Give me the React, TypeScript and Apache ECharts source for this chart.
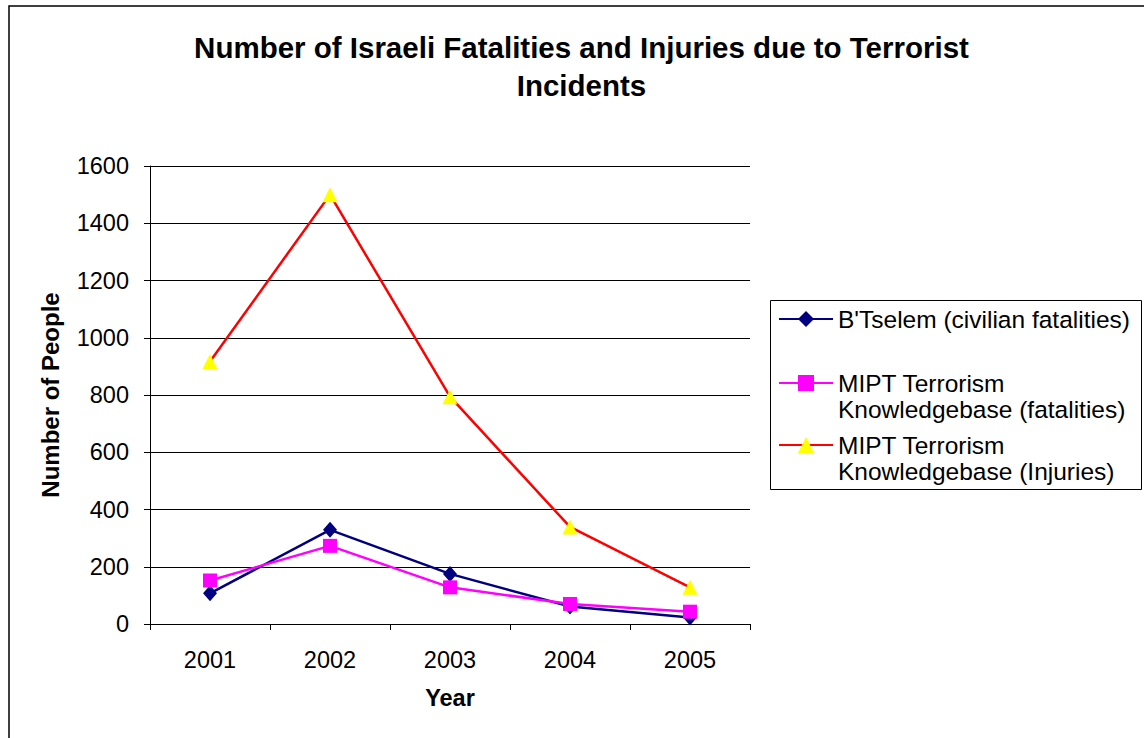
import React, { useEffect, useRef } from "react";
import * as echarts from "echarts";

const years = ["2001", "2002", "2003", "2004", "2005"];
const btselemFatalities = [107, 329, 175, 61, 23];
const miptFatalities = [152, 273, 128, 70, 43];
const miptInjuries = [917, 1500, 794, 339, 128];
const seriesNames = [
  "B'Tselem (civilian fatalities)",
  "MIPT Terrorism\nKnowledgebase (fatalities)",
  "MIPT Terrorism\nKnowledgebase (Injuries)",
];

const FONT = "'Liberation Sans', Arial, sans-serif";

export default function App() {
  const ref = useRef<HTMLDivElement>(null);
  useEffect(() => {
    if (!ref.current) return;
    const chart = echarts.init(ref.current, undefined, { renderer: "svg" });
    const legendText = {
      color: "#000",
      fontSize: 24.5,
      fontFamily: FONT,
      lineHeight: 26,
    };
    const legendBase = {
      orient: "vertical",
      left: 778,
      padding: 0,
      itemWidth: 54,
      itemHeight: 20,
      selectedMode: false,
      textStyle: legendText,
    };
    chart.setOption({
      animation: false,
      backgroundColor: "#fff",
      title: {
        text: "Number of Israeli Fatalities and Injuries due to Terrorist\nIncidents",
        left: 581.5,
        textAlign: "center",
        top: 28,
        padding: 0,
        textStyle: {
          fontFamily: FONT,
          fontWeight: "bold",
          fontSize: 29.5,
          lineHeight: 38,
          color: "#000",
        },
      },
      legend: [
        {
          ...legendBase,
          top: 306,
          data: [seriesNames[0]],
        },
        {
          ...legendBase,
          top: 344,
          data: [seriesNames[1]],
          formatter: (name: string) => "\n" + name,
        },
        {
          ...legendBase,
          top: 406,
          data: [seriesNames[2]],
          formatter: (name: string) => "\n" + name,
        },
      ],
      graphic: [
        {
          type: "rect",
          shape: { x: 770.5, y: 300.5, width: 371, height: 189 },
          style: { fill: "none", stroke: "#000", lineWidth: 1 },
          silent: true,
        },
        {
          type: "rect",
          shape: { x: 9, y: 6, width: 1300, height: 900 },
          style: { fill: "none", stroke: "#000", lineWidth: 1.5 },
          silent: true,
        },
      ],
      grid: { left: 150, top: 166, width: 600, height: 458 },
      xAxis: {
        type: "category",
        data: years,
        boundaryGap: true,
        name: "Year",
        nameLocation: "middle",
        nameGap: 62,
        nameTextStyle: {
          fontFamily: FONT,
          fontWeight: "bold",
          fontSize: 23.5,
          color: "#000",
        },
        axisLine: { lineStyle: { color: "#000", width: 1 } },
        axisTick: { show: true, length: 6, lineStyle: { color: "#000" } },
        axisLabel: {
          margin: 24,
          fontFamily: FONT,
          fontSize: 23.5,
          color: "#000",
        },
        splitLine: { show: false },
      },
      yAxis: {
        type: "value",
        min: 0,
        max: 1600,
        interval: 200,
        name: "Number of People",
        nameLocation: "middle",
        nameRotate: 90,
        nameGap: 88,
        nameTextStyle: {
          fontFamily: FONT,
          fontWeight: "bold",
          fontSize: 24,
          color: "#000",
        },
        axisLine: { show: true, lineStyle: { color: "#000", width: 1 } },
        axisTick: { show: true, length: 6, lineStyle: { color: "#000" } },
        axisLabel: {
          margin: 21,
          fontFamily: FONT,
          fontSize: 23.5,
          color: "#000",
          formatter: (v: number) => String(v),
        },
        splitLine: { show: true, lineStyle: { color: "#000", width: 1 } },
      },
      series: [
        {
          name: seriesNames[0],
          type: "line",
          data: btselemFatalities,
          symbol: "diamond",
          symbolSize: [14, 16],
          lineStyle: { color: "#000080", width: 2.5 },
          itemStyle: { color: "#000080" },
        },
        {
          name: seriesNames[1],
          type: "line",
          data: miptFatalities,
          symbol: "rect",
          symbolSize: 14,
          lineStyle: { color: "#FF00FF", width: 2.5 },
          itemStyle: { color: "#FF00FF" },
        },
        {
          name: seriesNames[2],
          type: "line",
          data: miptInjuries,
          symbol: "triangle",
          symbolSize: [15, 15],
          lineStyle: { color: "#FF0000", width: 2.5 },
          itemStyle: { color: "#FFFF00" },
        },
      ],
    });
    return () => chart.dispose();
  }, []);
  return (
    <div
      ref={ref}
      style={{ position: "absolute", left: 0, top: 0, width: 1144, height: 738 }}
    />
  );
}
